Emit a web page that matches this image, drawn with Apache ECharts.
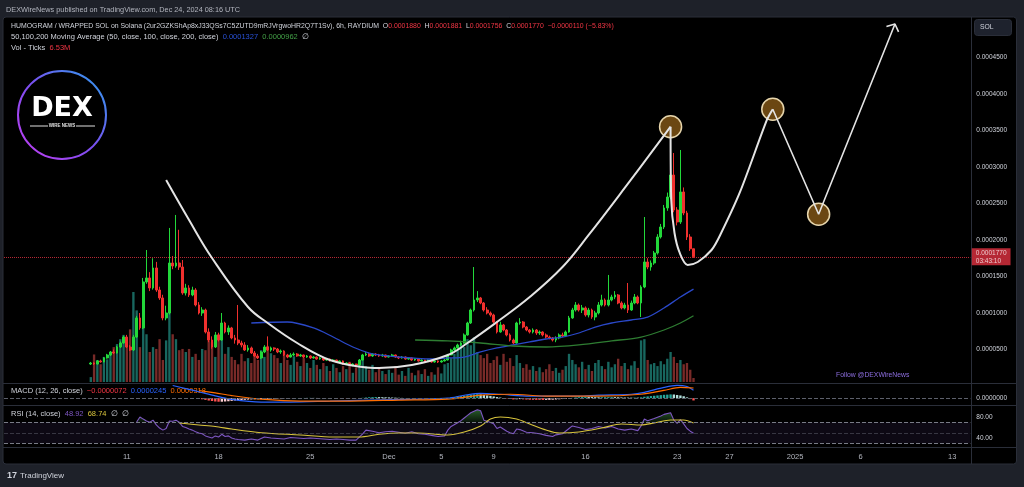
<!DOCTYPE html>
<html><head><meta charset="utf-8">
<script src="https://cdn.jsdelivr.net/npm/echarts@6/dist/echarts.min.js"></script>
<style>html,body{margin:0;padding:0;background:#1e2129;}#c{width:1024px;height:487px;}</style>
</head><body><div id="c"></div>
<script>
// ---------- DATA (prices in units of 1e-7 SOL) ----------
const FIRST_CANDLE = '2024-11-08 06:00';
const tickLabels = {'2024-11-11 00:00':'11','2024-11-18 00:00':'18','2024-11-25 00:00':'25','2024-12-01 00:00':'Dec','2024-12-05 00:00':'5','2024-12-09 00:00':'9','2024-12-16 00:00':'16','2024-12-23 00:00':'23','2024-12-27 00:00':'27','2025-01-01 00:00':'2025','2025-01-06 00:00':'6','2025-01-13 00:00':'13'};
const priceTicks = [500,1000,1500,2000,2500,3000,3500,4000,4500];
// [open, close, low, high], one per 6h bar
const candles = [
[301,315,288,330],[315,301,290,325],[301,343,295,355],[343,329,320,360],[329,384,325,395],[384,425,375,440],[425,466,410,480],[466,452,440,500],[452,534,445,550],[534,589,520,610],
[589,671,580,690],[671,534,520,700],[534,493,480,560],[493,671,480,700],[671,932,660,960],[932,795,770,1000],[795,1425,780,1480],[1425,1480,1400,1863],[1480,1343,1300,1560],[1343,1617,1320,1750],
[1617,1315,1290,1700],[1315,1206,1180,1360],[1206,932,900,1250],[932,1000,900,1100],[1000,1685,980,2165],[1685,1644,1600,1780],[1644,1685,1620,2343],[1685,1630,1590,2140],[1630,1274,1250,1726],[1274,1343,1240,1400],
[1343,1247,1220,1380],[1247,1315,1230,1360],[1315,1110,1090,1340],[1110,1000,980,1150],[1000,1041,960,1080],[1041,740,720,1060],[740,630,600,790],[630,534,510,680],[534,699,520,740],[699,630,610,730],
[630,863,620,1000],[863,740,720,880],[740,795,700,830],[795,658,640,810],[658,630,580,700],[630,589,560,1110],[589,562,530,620],[562,493,480,600],[493,521,470,560],[521,452,440,540],
[452,411,400,480],[411,384,370,440],[384,466,370,480],[466,534,450,560],[534,493,480,680],[493,521,470,540],[521,507,480,530],[507,466,450,520],[466,480,440,500],[480,425,410,490],
[425,397,380,440],[397,425,390,450],[425,438,410,460],[438,411,400,450],[411,425,400,440],[425,397,380,430],[397,411,385,425],[411,384,370,420],[384,397,375,410],[397,370,360,405],
[370,384,360,395],[384,356,343,390],[356,370,345,380],[370,343,335,375],[343,356,330,365],[356,329,320,360],[329,343,315,350],[343,301,290,350],[301,315,288,325],[315,288,274,320],
[288,301,270,310],[301,288,262,305],[288,356,280,370],[356,425,350,440],[425,438,410,470],[438,411,400,460],[411,438,400,450],[438,425,410,450],[425,411,400,440],[411,425,400,440],
[425,397,390,430],[397,411,390,420],[411,425,400,440],[425,397,385,430],[397,384,370,410],[384,397,375,410],[397,370,360,405],[370,384,360,395],[384,356,345,390],[356,370,345,380],
[370,343,335,375],[343,356,335,365],[356,343,330,360],[343,356,335,365],[356,329,320,360],[329,343,320,350],[343,329,315,350],[329,343,320,355],[343,356,335,370],[356,425,350,440],
[425,493,420,510],[493,521,480,540],[521,562,510,580],[562,589,550,620],[589,699,580,720],[699,863,690,880],[863,1041,850,1060],[1041,1178,1020,1630],[1178,1206,1150,1300],[1206,1137,1120,1220],
[1137,1041,1020,1150],[1041,1000,980,1080],[1000,973,950,1020],[973,877,860,990],[877,740,720,890],[740,836,730,880],[836,767,750,850],[767,699,680,780],[699,630,610,720],[630,589,570,650],
[589,863,580,880],[863,877,840,930],[877,808,790,890],[808,767,750,820],[767,740,720,780],[740,767,720,790],[767,726,700,780],[726,740,700,760],[740,699,680,750],[699,671,650,720],
[671,658,640,690],[658,630,610,670],[630,658,600,680],[658,699,640,720],[699,685,670,730],[685,740,670,760],[740,932,730,960],[932,1041,920,1070],[1041,1110,1020,1150],[1110,1041,1020,1130],
[1041,1069,1000,1110],[1069,973,950,1090],[973,1041,940,1070],[1041,945,920,1060],[945,1000,900,1030],[1000,1110,980,1150],[1110,1178,1090,1250],[1178,1110,1090,1200],[1110,1178,1090,1521],[1178,1219,1160,1250],
[1219,1247,1190,1300],[1247,1137,1120,1260],[1137,1069,1050,1160],[1069,1110,1050,1140],[1110,1041,1000,1411],[1041,1137,1030,1170],[1137,1219,1120,1260],[1219,1137,1120,1240],[1137,1356,945,1380],[1356,1699,1340,2315],
[1699,1630,1600,1750],[1630,1685,1580,1720],[1685,1822,1660,1850],[1822,2041,1800,2080],[2041,2178,2020,2220],[2178,2439,2150,2480],[2439,2589,2400,2650],[2589,2890,2560,3000],[2890,2411,2380,3192],[2411,2247,2200,2450],
[2247,2658,2220,3233],[2658,2370,2340,2720],[2370,2041,2000,2400],[2041,1880,1850,2080],[1880,1770,1756,1881]
];
// volume in millions of ticks
const volumes = [8,45,36,29,41,37,49,57,62,70,77,62,86,
147,117,57,111,78,49,57,54,70,36,68,129,
78,70,52,54,49,54,41,46,36,54,52,68,65,41,78,73,46,57,41,36,29,46,
34,39,31,44,36,52,41,59,47,44,39,31,49,36,28,42,33,26,39,31,23,36,28,21,31,26,18,29,23,16,26,21,33,15,24,31,39,26,20,28,16,23,18,13,
20,15,26,12,18,10,23,15,11,19,13,21,10,16,12,24,14,29,
31,39,46,52,62,57,70,60,73,49,
44,39,46,31,36,42,28,46,33,39,26,44,31,23,29,20,26,18,24,16,21,29,18,23,15,20,26,
46,36,29,24,33,21,28,18,31,36,26,21,33,24,29,38,26,31,21,27,34,23,
68,70,36,29,31,26,34,29,38,49,41,31,36,29,31,20,6.53];
// moving averages: [bar number, value]
const ma50 = [[49,863],[60,877],[68,795],[74,671],[80,534],[85,452],[88,425],[94,397],[98,384],[104,370],[109,384],[114,397],[119,466],[124,521],[129,562],[134,603],[139,644],[144,671],[149,726],[154,808],[159,863],[165,904],[170,945],[175,1069],[180,1219],[184,1327]];
const ma100 = [[99,630],[109,617],[119,589],[129,548],[139,534],[149,562],[159,617],[168,671],[175,767],[180,863],[184,962]];
// MACD
const MACD_HIST_START = 33;
const macdHist = [-15,-35,-55,-75,-90,-105,-112,-112,-105,-98,-86,
-75,-68,-60,-52,-45,-41,-38,-34,-30,-26,-22,-19,
-16,-13,-10,-8,-5,-3,0,3,5,6,8,8,7,6,5,4,3,2,0,-2,-3,-4,-5,-6,-5,-3,0,
10,20,28,32,34,33,30,27,24,20,16,12,8,5,2,0,-2,-4,-6,-8,-9,-10,-10,-9,-8,-6,
5,20,35,50,65,80,95,110,120,125,115,100,85,70,55,
35,20,5,-10,-25,-40,-35,-30,-38,-45,-50,-52,-54,-55,-56,-55,-52,-48,-42,-36,-28,-20,
-5,10,22,30,34,36,35,33,30,28,30,32,33,34,32,28,24,20,18,16,18,15,
25,45,55,65,75,85,95,105,110,118,115,100,85,60,25,-30,-72];
const macdLine = [[25,398],[29,300],[33,200],[38,70],[43,-40],[52,-122],[61,-122],[73,-92],[85,-61],[100,-31],[109,0],[114,92],[119,153],[125,122],[134,61],[149,61],[155,92],[165,122],[169,184],[175,337],[179,398],[182,367],[184,245]];
const macdSignal = [[33,240],[38,165],[43,80],[52,-31],[64,-92],[79,-92],[94,-61],[109,-31],[119,92],[128,122],[140,61],[155,61],[168,122],[175,245],[180,337],[184,318]];
// RSI
const rsi = [[14,70.5],[15,80],[16,76],[17,72.4],[18,70],[19,74],[20,65],[21,59],[22,55],[23,58],[24,72.4],[25,72],[26,74],[27,70],[28,62],[29,60],[30,57],[31,55],[32,52],[33,49.5],[34,48],[35,44],[36,42],[37,40],[38,44],[39,42],[40,47],[41,43],[42,44],[43,40],[44,38],[45,37],[47,36],[49,38],[51,36],[53,42],[55,40],[57,39],[59,38],[61,41],[63,40],[65,39],[67,40],[69,39],[71,38],[73,37],[75,38],[77,37],[79,36],[81,36],[83,48],[84,55],[86,53],[88,50],[90,52],[92,53],[94,51],[96,49],[98,52],[100,48],[102,47],[104,45],[106,43],[108,44],[109,55],[110,62],[112,69],[113,73],[114,78],[115,83],[116,88],[117,91],[118,94],[119,92],[120,74],[121,72],[123,67],[124,58],[125,61],[127,53],[128,50],[129,48],[130,57],[131,56],[133,51],[135,50],[137,48],[139,45],[141,43],[142,46],[144,48],[146,58],[147,63],[149,60],[151,56],[153,58],[155,62],[157,59],[159,62],[161,57],[163,55],[165,57],[167,54],[168,63],[169,76],[170,73],[172,77],[174,82],[175,85],[177,88],[178,74],[179,68],[180,75],[181,67],[182,58],[183,53],[184,48.92]];
const rsiMa = [[27,68.6],[30,66.7],[33,64.8],[38,62],[43,57],[52,50],[64,45.7],[74,41.9],[82,41.9],[88,47],[94,49.5],[100,49.5],[109,45.7],[114,51.4],[119,62.9],[122,76.2],[125,80],[130,76.2],[134,66.7],[139,55.2],[143,49.5],[149,51.4],[156,59],[162,66.7],[168,64.8],[172,68.6],[177,74.3],[181,74.3],[184,68.74]];
// hand-drawn annotations: [bar number, price]
const cupCurve = [[23,2822],[30,2274],[37,1754],[48,1082],[54,863],[63,589],[73,356],[83,260],[88,247],[98,288],[109,425],[115,589],[124,877],[134,1219],[144,1630],[152,2069],[163,2713],[177,3552]];
const handleCurve = [[177,3552],[177.2,2548],[178.2,2096],[179.8,1822],[182.2,1658],[185.3,1699],[189.5,1863],[192,2055],[198.2,2658],[206.4,3644],[208.2,3791]];
const zigzag = [[208.2,3791],[222.2,2352],[245.5,4959]];
const arrowHead = [[242.9,4925],[245.5,4959],[246.6,4850]];
const circles = [[177,3552],[208.2,3791],[222.2,2352]];

// ---------- AXIS CATEGORIES (6h slots) ----------
const pad = n => String(n).padStart(2,'0');
const fmt = ts => { const d = new Date(ts); return d.getUTCFullYear()+'-'+pad(d.getUTCMonth()+1)+'-'+pad(d.getUTCDate())+' '+pad(d.getUTCHours())+':00'; };
const cats = [];
for (let t = Date.UTC(2024,10,1,18); t <= Date.UTC(2025,0,14,6); t += 6*3600*1000) cats.push(fmt(t));
const N = cats.length;
const OFF = cats.indexOf(FIRST_CANDLE);
const pts = arr => arr.map(p => [OFF + p[0], p[1]]);

const candleData = cats.map((c,k) => { const r = candles[k-OFF]; return r ? r : '-'; });
const UP = '#22d83a', DN = '#f0302e';
const volData = cats.map((c,k) => { const r = candles[k-OFF]; if (!r) return '-'; return {value: volumes[k-OFF], itemStyle:{color: r[1] >= r[0] ? 'rgba(38,166,154,0.62)' : 'rgba(239,83,80,0.5)'}}; });
const histData = cats.map((c,k) => { const j = k-OFF-MACD_HIST_START; if (j < 0 || j >= macdHist.length) return '-'; const v = macdHist[j]; const p = j>0 ? macdHist[j-1] : v; const col = v >= 0 ? (v >= p ? '#26a69a' : '#b2dfdb') : (v < p ? '#ff5252' : '#ffcdd2'); return {value: v, itemStyle:{color: col}}; });
const obData = rsi.map(p => [OFF + p[0], Math.max(p[1], 70)]);
const last = candles[candles.length-1];

const FONT = '"Liberation Sans", Arial, sans-serif';
const TXT = '#d1d4dc';
const LEFT = 4, RIGHT = 1024 - 970.3;
const lab = {color: TXT, fontSize: 6.5, fontFamily: FONT, margin: 6};
const valX = g => ({type:'value', gridIndex:g, min:-0.5, max:N-0.5, show:false});
const catX = (g, show) => ({type:'category', gridIndex:g, data:cats, boundaryGap:true, axisLine:{show:false}, axisTick:{show:false}, splitLine:{show:false},
  axisLabel: show ? {show:true, color:'#b2b5be', fontSize:7.5, fontFamily:FONT, margin:3, interval:(i,v)=>tickLabels[v]!==undefined, formatter:v=>tickLabels[v]||''} : {show:false}});

const chart = echarts.init(document.getElementById('c'), null, {renderer:'canvas'});
const grad = new echarts.graphic.LinearGradient(0,1,1,0,[{offset:0,color:'#c93cf2'},{offset:0.5,color:'#7a4ff0'},{offset:1,color:'#26a6ef'}]);
const F1 = '6.9px '+FONT, F2 = '7.5px '+FONT;

chart.setOption({
  backgroundColor: '#1e2129',
  animation: false,
  grid: [
    {left:LEFT, right:RIGHT, top:21, height:365},      // price
    {left:LEFT, right:RIGHT, top:281, height:101},     // volume
    {left:LEFT, right:RIGHT, top:383.5, height:21.5},  // MACD
    {left:LEFT, right:RIGHT, top:406.5, height:52.5},  // RSI
    {left:LEFT, right:RIGHT, top:449, height:1}        // time labels
  ],
  xAxis: [catX(0,false), valX(0), catX(1,false), catX(2,false), valX(2), valX(3), catX(4,true)],
  yAxis: [
    {type:'value', gridIndex:0, position:'right', min:0, max:5000, interval:500, splitLine:{show:false}, axisLine:{show:false}, axisTick:{show:false},
      axisLabel:Object.assign({}, lab, {formatter:v => priceTicks.indexOf(v) >= 0 ? (v*1e-7).toFixed(7) : ''})},
    {type:'value', gridIndex:1, min:0, max:165, show:false},
    {type:'value', gridIndex:2, position:'right', min:-215, max:460, interval:215, splitLine:{show:false}, axisLine:{show:false}, axisTick:{show:false},
      axisLabel:Object.assign({}, lab, {formatter:v => v === 0 ? (0).toFixed(7) : ''})},
    {type:'value', gridIndex:3, position:'right', min:0, max:100, interval:20, splitLine:{show:false}, axisLine:{show:false}, axisTick:{show:false},
      axisLabel:Object.assign({}, lab, {formatter:v => (v === 80 || v === 40) ? v.toFixed(2) : ''})},
    {type:'value', gridIndex:4, min:0, max:1, show:false}
  ],
  graphic: [
    {type:'rect', z:-10, shape:{x:3, y:17, width:1013.5, height:447, r:3}, style:{fill:'#000', stroke:'#2a2e39', lineWidth:1}},
    {type:'line', z:-9, shape:{x1:971.5, y1:17, x2:971.5, y2:464}, style:{stroke:'#2a2e39', lineWidth:1}},
    {type:'line', z:-9, shape:{x1:3, y1:383.5, x2:1016.5, y2:383.5}, style:{stroke:'#2a2e39', lineWidth:1}},
    {type:'line', z:-9, shape:{x1:3, y1:405.5, x2:1016.5, y2:405.5}, style:{stroke:'#2a2e39', lineWidth:1}},
    {type:'line', z:-9, shape:{x1:3, y1:447.5, x2:1016.5, y2:447.5}, style:{stroke:'#2a2e39', lineWidth:1}},
    {type:'text', style:{x:6, y:10, text:'DEXWireNews published on TradingView.com, Dec 24, 2024 08:16 UTC', fill:'#b2b5be', font:'7.3px '+FONT, textVerticalAlign:'middle'}},
    {type:'text', style:{x:11, y:26, textVerticalAlign:'middle', font:F1, fill:TXT,
      text:'{w|HUMOGRAM / WRAPPED SOL on Solana (2ur2GZKShAp8xJ33QSs7C5ZUTD9mRJVrgwoHR2Q7T1Sv), 6h, RAYDIUM}  {w|O}{r|'+(last[0]*1e-7).toFixed(7)+'}  {w|H}{r|'+(last[3]*1e-7).toFixed(7)+'}  {w|L}{r|'+(last[2]*1e-7).toFixed(7)+'}  {w|C}{r|'+(last[1]*1e-7).toFixed(7)+'}  {r|−0.0000110 (−5.83%)}',
      rich:{w:{fill:TXT, font:F1}, r:{fill:'#f23645', font:F1}}}},
    {type:'text', style:{x:11, y:37, textVerticalAlign:'middle', font:F2, fill:TXT,
      text:'{w|50,100,200 Moving Average (50, close, 100, close, 200, close)}  {b|'+(ma50[ma50.length-1][1]*1e-7).toFixed(7)+'}  {g|'+(ma100[ma100.length-1][1]*1e-7).toFixed(7)+'}  {w|∅}',
      rich:{w:{fill:TXT, font:F2}, b:{fill:'#2a52d8', font:F2}, g:{fill:'#43a047', font:F2}}}},
    {type:'text', style:{x:11, y:48, textVerticalAlign:'middle', font:F2, fill:TXT,
      text:'{w|Vol - Ticks}  {r|'+volumes[volumes.length-1].toFixed(2)+'M}', rich:{w:{fill:TXT, font:F2}, r:{fill:'#f23645', font:F2}}}},
    {type:'text', style:{x:11, y:391, textVerticalAlign:'middle', font:F2, fill:TXT,
      text:'{w|MACD (12, 26, close)}  {r|−'+(Math.abs(macdHist[macdHist.length-1])*1e-7).toFixed(7)+'}  {b|'+(macdLine[macdLine.length-1][1]*1e-7).toFixed(7)+'}  {o|'+(macdSignal[macdSignal.length-1][1]*1e-7).toFixed(7)+'}',
      rich:{w:{fill:TXT, font:F2}, r:{fill:'#f23645', font:F2}, b:{fill:'#2962ff', font:F2}, o:{fill:'#ff6d00', font:F2}}}},
    {type:'text', style:{x:11, y:414, textVerticalAlign:'middle', font:F2, fill:TXT,
      text:'{w|RSI (14, close)}  {p|'+rsi[rsi.length-1][1].toFixed(2)+'}  {y|'+rsiMa[rsiMa.length-1][1].toFixed(2)+'}  {w|∅  ∅}',
      rich:{w:{fill:TXT, font:F2}, p:{fill:'#7e57c2', font:F2}, y:{fill:'#d8c43c', font:F2}}}},
    {type:'text', style:{x:836, y:375, text:'Follow @DEXWireNews', fill:'#8d6ee0', font:'6.8px '+FONT, textVerticalAlign:'middle'}},
    {type:'rect', shape:{x:974.5, y:19.5, width:37, height:16, r:3}, style:{fill:'#1e222d', stroke:'#2a2e39', lineWidth:1}},
    {type:'text', style:{x:980, y:27.5, text:'SOL', fill:TXT, font:'6.8px '+FONT, textVerticalAlign:'middle'}},
    // DEX logo
    {type:'circle', shape:{cx:62, cy:115, r:44}, style:{fill:'none', stroke:grad, lineWidth:2}},
    {type:'text', style:{x:62, y:109, text:'DEX', fill:'#ffffff', font:'bold 27px "DejaVu Sans", sans-serif', textAlign:'center', textVerticalAlign:'middle'}},
    {type:'text', style:{x:62, y:126, text:'WIRE NEWS', fill:'#e0e0e0', font:'bold 4.5px '+FONT, textAlign:'center', textVerticalAlign:'middle'}},
    {type:'line', shape:{x1:30, y1:126, x2:48, y2:126}, style:{stroke:'#e0e0e0', lineWidth:1}},
    {type:'line', shape:{x1:76, y1:126, x2:95, y2:126}, style:{stroke:'#e0e0e0', lineWidth:1}},
    // TradingView footer
    {type:'text', style:{x:7, y:476, text:'17', fill:TXT, font:'bold 9px '+FONT, textVerticalAlign:'middle'}},
    {type:'text', style:{x:20, y:476, text:'TradingView', fill:TXT, font:'8px '+FONT, textVerticalAlign:'middle'}}
  ],
  series: [
    {type:'bar', name:'vol', xAxisIndex:2, yAxisIndex:1, data:volData, barWidth:'72%', z:1},
    {type:'candlestick', xAxisIndex:0, yAxisIndex:0, data:candleData, barWidth:'70%', z:3,
      itemStyle:{color:UP, color0:DN, borderColor:UP, borderColor0:DN, borderWidth:1},
      markLine:{silent:true, symbol:['none','none'], data:[{yAxis:last[1]}],
        lineStyle:{color:'#f23645', type:'dotted', width:1, opacity:0.75},
        label:{show:true, position:'end', distance:1.5, formatter:'0.0001770\n03:43:10', color:'#fff', backgroundColor:'#f23645', fontSize:6.5, lineHeight:8, padding:[1,4,0,4], fontFamily:FONT}}},
    {type:'line', xAxisIndex:1, yAxisIndex:0, data:pts(ma50), smooth:0.3, symbol:'none', lineStyle:{color:'#2a48c8', width:1.3}, z:4},
    {type:'line', xAxisIndex:1, yAxisIndex:0, data:pts(ma100), smooth:0.3, symbol:'none', lineStyle:{color:'#2e7d32', width:1.3}, z:4},
    {type:'scatter', xAxisIndex:1, yAxisIndex:0, data:pts(circles), symbolSize:22, itemStyle:{color:'#6b4712', borderColor:'#e6d5ac', borderWidth:1.5, opacity:1}, z:5},
    {type:'line', xAxisIndex:1, yAxisIndex:0, data:pts(cupCurve), smooth:0.4, symbol:'none', lineStyle:{color:'#e4e4e4', width:2}, z:6},
    {type:'line', xAxisIndex:1, yAxisIndex:0, data:pts(handleCurve), smooth:0.3, symbol:'none', lineStyle:{color:'#e4e4e4', width:2}, z:6},
    {type:'line', xAxisIndex:1, yAxisIndex:0, data:pts(zigzag), symbol:'none', lineStyle:{color:'#e4e4e4', width:1.6}, z:6, clip:false},
    {type:'line', xAxisIndex:1, yAxisIndex:0, data:pts(arrowHead), symbol:'none', lineStyle:{color:'#e4e4e4', width:1.6}, z:6, clip:false},
    // MACD
    {type:'bar', xAxisIndex:3, yAxisIndex:2, data:histData, barWidth:'72%', z:2,
      markLine:{silent:true, symbol:['none','none'], label:{show:false}, data:[{yAxis:0}], lineStyle:{color:'#5d606b', type:'dashed', width:1}}},
    {type:'line', xAxisIndex:4, yAxisIndex:2, data:pts(macdLine), smooth:0.3, symbol:'none', lineStyle:{color:'#2962ff', width:1.2}, z:3},
    {type:'line', xAxisIndex:4, yAxisIndex:2, data:pts(macdSignal), smooth:0.3, symbol:'none', lineStyle:{color:'#ff6d00', width:1.2}, z:3},
    // RSI
    {type:'line', xAxisIndex:5, yAxisIndex:3, data:obData, symbol:'none', lineStyle:{width:0}, z:2,
      areaStyle:{origin:70, color:new echarts.graphic.LinearGradient(0,0,0,1,[{offset:0,color:'rgba(76,175,80,0.75)'},{offset:1,color:'rgba(76,175,80,0.15)'}])}},
    {type:'line', xAxisIndex:5, yAxisIndex:3, data:pts(rsi), symbol:'none', lineStyle:{color:'#7e57c2', width:1.1}, z:3,
      markArea:{silent:true, itemStyle:{color:'rgba(126,87,194,0.10)'}, data:[[{yAxis:30},{yAxis:70}]]},
      markLine:{silent:true, symbol:['none','none'], label:{show:false},
        data:[{yAxis:70, lineStyle:{color:'#787b86', type:'dashed', width:1}}, {yAxis:50, lineStyle:{color:'rgba(120,123,134,0.4)', type:'dashed', width:1}}, {yAxis:30, lineStyle:{color:'#787b86', type:'dashed', width:1}}]}},
    {type:'line', xAxisIndex:5, yAxisIndex:3, data:pts(rsiMa), smooth:0.3, symbol:'none', lineStyle:{color:'#d8c43c', width:1.1}, z:3}
  ]
});
</script></body></html>
